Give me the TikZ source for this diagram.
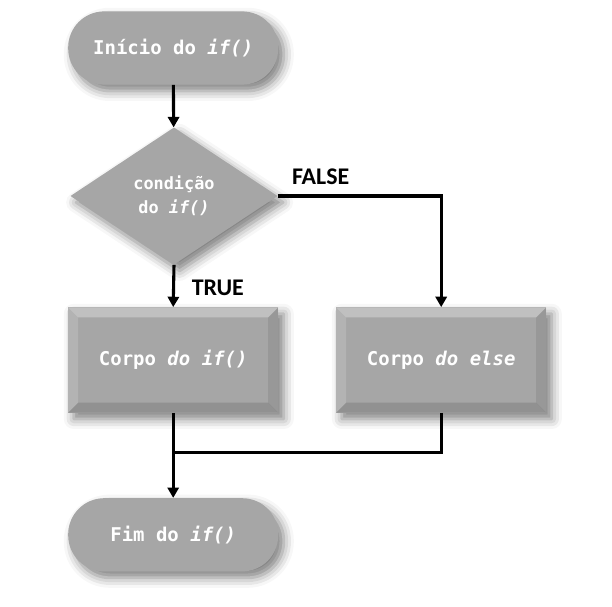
\documentclass[tikz,border=0pt]{standalone}
\usepackage{fontspec}
\setmonofont{DejaVu Sans Mono}
\newfontfamily\lblfont{Carlito}
\usetikzlibrary{arrows.meta,positioning,shapes.geometric,shadows.blur}

\definecolor{boxgray}{HTML}{A6A6A6}

\begin{document}
\begin{tikzpicture}[
  base/.style={fill=boxgray, text=white, font=\ttfamily\bfseries\fontsize{13.5}{16}\selectfont,
               align=center, inner sep=0pt,
               blur shadow={shadow xshift=1.4mm, shadow yshift=-1.6mm,
                            shadow blur radius=2.5mm, shadow opacity=50}},
  term/.style={base, rectangle, rounded corners=0.9cm,
               minimum width=5.25cm, minimum height=1.83cm},
  cond/.style={base, diamond, minimum width=5.18cm, minimum height=3.43cm,
               font=\ttfamily\bfseries\fontsize{12}{17}\selectfont},
  block/.style={base, rectangle, minimum width=5.25cm, minimum height=2.63cm,
    path picture={
      \fill[white, opacity=.3] (path picture bounding box.north west)
        -- (path picture bounding box.north east)
        -- ([shift={(-2.5mm,-2.5mm)}]path picture bounding box.north east)
        -- ([shift={(2.5mm,-2.5mm)}]path picture bounding box.north west) -- cycle;
      \fill[white, opacity=.15] (path picture bounding box.north west)
        -- ([shift={(2.5mm,-2.5mm)}]path picture bounding box.north west)
        -- ([shift={(2.5mm,2.5mm)}]path picture bounding box.south west)
        -- (path picture bounding box.south west) -- cycle;
      \fill[black, opacity=.12] (path picture bounding box.south west)
        -- (path picture bounding box.south east)
        -- ([shift={(-2.5mm,2.5mm)}]path picture bounding box.south east)
        -- ([shift={(2.5mm,2.5mm)}]path picture bounding box.south west) -- cycle;
      \fill[black, opacity=.08] (path picture bounding box.north east)
        -- ([shift={(-2.5mm,-2.5mm)}]path picture bounding box.north east)
        -- ([shift={(-2.5mm,2.5mm)}]path picture bounding box.south east)
        -- (path picture bounding box.south east) -- cycle;
    }},
  line/.style={line width=2.2pt, black},
  arr/.style={line, -{Triangle[length=2.6mm, width=2.8mm]}},
  lbl/.style={font=\lblfont\bfseries\fontsize{17}{20}\selectfont},
]
\useasboundingbox (0,0) rectangle (15.3,15.15);

\node[term] (inicio) at (4.33,13.95) {Início do \textit{if()}};
\node[cond] (cond) at (4.35,10.25) {condição\\do \textit{if()}};
\node[block] (corpoif) at (4.33,6.15) {Corpo \textit{do if()}};
\node[block] (corpoelse) at (11.03,6.15) {Corpo \textit{do else}};
\node[term] (fim) at (4.33,1.78) {Fim do \textit{if()}};
\coordinate[below=1cm of corpoif.south] (junta);

\draw[arr] (inicio) -- (cond);
\draw[arr] (cond.south) -- node[lbl, pos=0.55, right=3mm] {TRUE} (corpoif.north);
\draw[arr] (cond.east) -| node[lbl, pos=0, above right={1.3mm and 2mm}] {FALSE} (corpoelse.north);
\draw[arr] (corpoif.south) -- (fim.north);
\draw[line] (corpoelse.south) |- (junta);
\end{tikzpicture}
\end{document}
